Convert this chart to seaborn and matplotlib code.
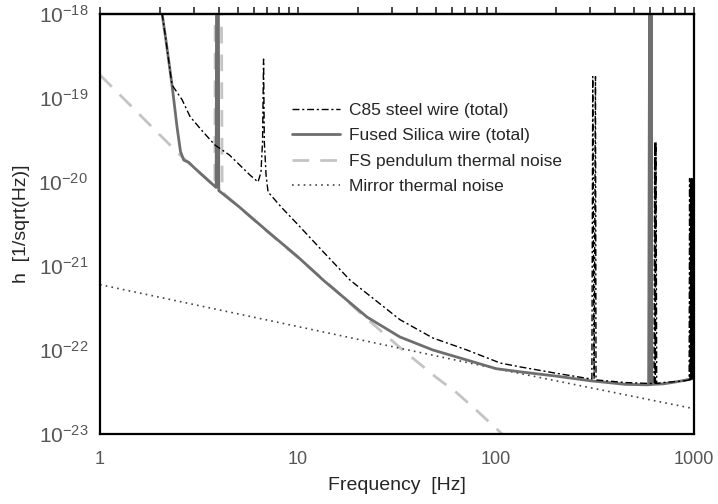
import numpy as np
import pandas as pd
import matplotlib
matplotlib.use('Agg')
import matplotlib.pyplot as plt
import matplotlib.ticker as mticker
import seaborn as sns

# values (frequency in Hz, strain in 1/sqrt(Hz))
# FS pendulum thermal noise (light dashed)
fs_pend_f = [1, 1.5, 2, 2.54, 3, 3.5, 3.8, 3.82, 4.1, 4.14, 5, 7, 10, 15, 20.5, 32.7, 50, 63.3, 80, 105, 110]
fs_pend_h = [1.88e-19, 7.23e-20, 3.66e-20, 2.09e-20, 1.46e-20, 1.05e-20, 8.75e-21, 3e-18, 3e-18, 7.6e-21,
             5.1e-21, 2.57e-21, 1.26e-21, 5.5e-22, 2.8e-22, 1.07e-22, 4.7e-23, 3.1e-23, 1.9e-23, 1.05e-23, 9.5e-24]

# Mirror thermal noise (dotted)
mirror_f = [1, 10, 100, 1000]
mirror_h = [6.0e-22, 1.9e-22, 6.0e-23, 2.0e-23]

# Fused Silica wire total (solid)
fs_tot_f = [2.0, 2.06, 2.15, 2.31, 2.45, 2.55, 2.65, 2.8, 3.0, 3.5, 3.86, 3.88, 3.96, 3.98, 5, 7, 10, 13.4,
            22.3, 32.7, 48, 71.3, 100, 132, 200, 300, 450, 590, 597, 600, 603, 606, 609, 612, 700, 850, 1000]
fs_tot_h = [3e-18, 1e-18, 5e-19, 1.43e-19, 4.5e-20, 2.3e-20, 1.82e-20, 1.72e-20, 1.47e-20, 1.06e-20, 8.6e-21,
            3e-18, 3e-18, 7.9e-21, 5.15e-21, 2.6e-21, 1.28e-21, 6.8e-22, 2.47e-22, 1.43e-22, 1.0e-22, 7.6e-23,
            6.0e-23, 5.5e-23, 4.9e-23, 4.3e-23, 3.9e-23, 3.85e-23, 3e-18, 3.9e-23, 3e-18, 3.9e-23, 3e-18,
            3.9e-23, 3.95e-23, 4.25e-23, 4.6e-23]

# C85 steel wire total (dash-dot)
c85_f = [2.0, 2.06, 2.15, 2.31, 2.6, 2.85, 3.3, 3.81, 4.5, 5.72, 6.28, 6.5, 6.62, 6.7, 6.76, 6.9, 7.06, 8.31,
         10, 13.4, 18.3, 32.7, 48, 71.3, 105, 132, 200, 305, 308, 313, 318, 320, 450, 590, 628, 633, 638,
         643, 648, 700, 900, 945, 950, 955, 960, 965, 970, 975, 980, 985, 990, 995, 1000]
c85_h = [3e-18, 1e-18, 5e-19, 1.43e-19, 9.5e-20, 6.0e-20, 4.0e-20, 2.75e-20, 2.1e-20, 1.21e-20, 1.0e-20,
         1.3e-20, 3e-20, 2.9e-19, 3e-20, 1.2e-20, 7.6e-21, 4.9e-21, 3.1e-21, 1.48e-21, 6.8e-22, 2.3e-22,
         1.39e-22, 1.0e-22, 7.0e-23, 6.3e-23, 5.3e-23, 4.5e-23, 1.8e-19, 4.6e-23, 1.8e-19, 4.4e-23, 4.1e-23,
         4.0e-23, 4.0e-23, 3e-20, 4.0e-23, 3e-20, 4.0e-23, 4.1e-23, 4.3e-23, 4.4e-23, 1.1e-20, 4.4e-23,
         1.1e-20, 4.5e-23, 1.1e-20, 4.5e-23, 1.1e-20, 4.5e-23, 1.1e-20, 4.6e-23, 4.6e-23]

labels = ['C85 steel wire (total)', 'Fused Silica wire (total)', 'FS pendulum thermal noise', 'Mirror thermal noise']
x_ticks = [1, 10, 100, 1000]
y_ticks = [1e-23, 1e-22, 1e-21, 1e-20, 1e-19, 1e-18]

sns.set_style('white')
plt.rcParams['font.family'] = ['Liberation Sans', 'DejaVu Sans']
plt.rcParams['axes.unicode_minus'] = False

fig = plt.figure(figsize=(7.18, 5.04), dpi=100)
ax = fig.add_axes([100 / 718, 1 - 434 / 504, 594 / 718, 420 / 504])

# draw from the back to the front
sns.lineplot(x=fs_pend_f, y=fs_pend_h, estimator=None, sort=False, ax=ax, color='#c4c4c4',
             linewidth=2, linestyle=(0, (6, 4)), label=labels[2])
sns.lineplot(x=mirror_f, y=mirror_h, estimator=None, sort=False, ax=ax, color='#444444',
             linewidth=1.2, linestyle=(0, (1, 2.5)), label=labels[3])
sns.lineplot(x=fs_tot_f, y=fs_tot_h, estimator=None, sort=False, ax=ax, color='#6e6e6e',
             linewidth=2, label=labels[1])
sns.lineplot(x=c85_f, y=c85_h, estimator=None, sort=False, ax=ax, color='black',
             linewidth=1, linestyle=(0, (5, 2, 1.5, 2)), label=labels[0])

ax.set_xscale('log')
ax.set_yscale('log')
ax.set_xlim(1, 1000)
ax.set_ylim(1e-23, 1e-18)

# minor ticks 2..9 inside each decade
x_minor = [m * d for d in [1, 10, 100] for m in range(2, 10)]
y_minor = [m * d for d in y_ticks[:-1] for m in range(2, 10)]

ax.xaxis.set_major_locator(mticker.FixedLocator(x_ticks))
ax.xaxis.set_major_formatter(mticker.FixedFormatter([str(t) for t in x_ticks]))
ax.xaxis.set_minor_locator(mticker.FixedLocator(x_minor))
ax.xaxis.set_minor_formatter(mticker.NullFormatter())
ax.yaxis.set_major_locator(mticker.FixedLocator(y_ticks))
ax.yaxis.set_major_formatter(mticker.LogFormatterSciNotation())
ax.yaxis.set_minor_locator(mticker.FixedLocator(y_minor))
ax.yaxis.set_minor_formatter(mticker.NullFormatter())

ax.tick_params(axis='both', which='major', direction='inout', length=9, width=1.5,
               labelcolor='#555555', color='black')
ax.tick_params(axis='x', which='major', labelsize=13, pad=8)
ax.tick_params(axis='y', which='major', labelsize=15, pad=4)
ax.tick_params(axis='both', which='minor', direction='in', length=5, width=1.2, color='black')

# top axis: same ticks pointing up, no labels
top = ax.secondary_xaxis('top')
top.xaxis.set_major_locator(mticker.FixedLocator(x_ticks))
top.xaxis.set_minor_locator(mticker.FixedLocator(x_minor))
top.xaxis.set_major_formatter(mticker.NullFormatter())
top.xaxis.set_minor_formatter(mticker.NullFormatter())
top.tick_params(which='both', direction='out', length=5, width=1.2, labeltop=False)
top.spines['top'].set_linewidth(1.6)

for s in ax.spines.values():
    s.set_linewidth(1.6)
    s.set_color('black')

ax.set_xlabel('Frequency  [Hz]', fontsize=14, labelpad=6)
ax.set_ylabel('h  [1/sqrt(Hz)]', fontsize=14, labelpad=6)

handles, labs = ax.get_legend_handles_labels()
order = [labs.index(l) for l in labels]
ax.legend([handles[i] for i in order], [labs[i] for i in order], frameon=False, fontsize=12.5,
          loc='upper left', bbox_to_anchor=(0.323, 0.788), borderpad=0, borderaxespad=0,
          handlelength=2.8, handletextpad=0.5, labelspacing=0.58)

fig.savefig('out.png', dpi=100)
